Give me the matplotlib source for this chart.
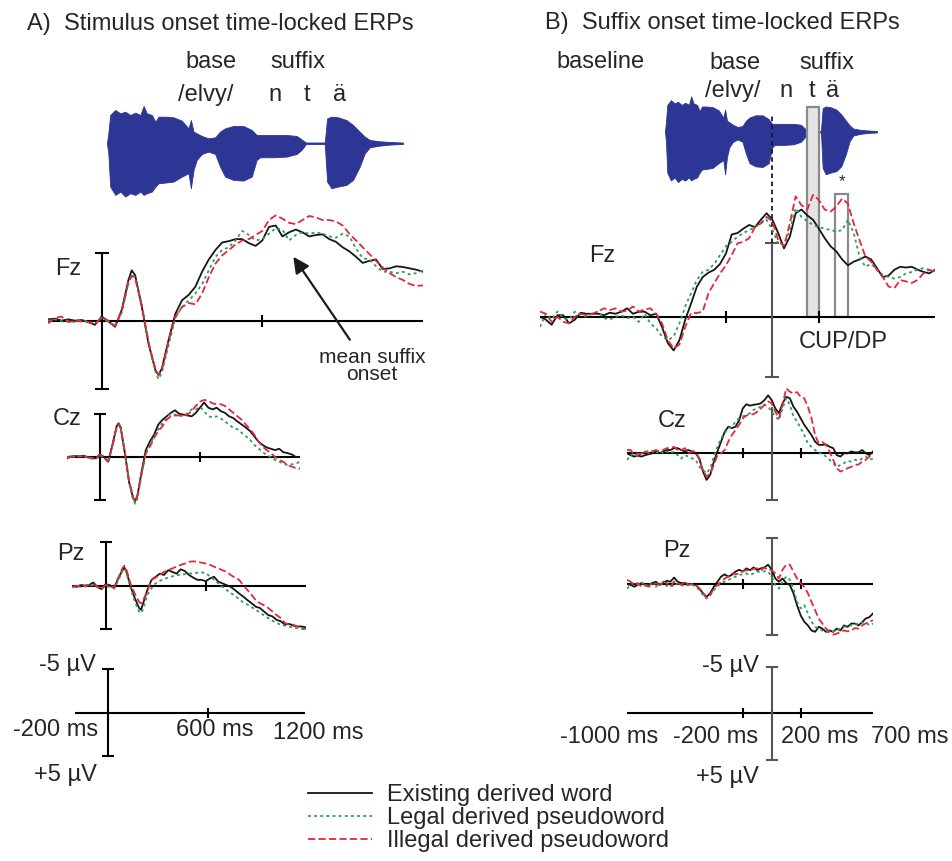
import numpy as np
import matplotlib
matplotlib.use("Agg")
import matplotlib.pyplot as plt
from matplotlib.patches import Rectangle

plt.rcParams['font.family'] = ['Liberation Sans', 'DejaVu Sans']

# ---------------- data (µV, negative plotted up) ----------------
# panel A: stimulus onset locked, ms
tA = np.r_[-200:101:25, 112, 125:201:25, 212, 225:1201:25]

fzA_exist = [-0.1, -0.15, 0.0, -0.1, 0.0, -0.05, 0.1, 0.3, -0.3, 0.05, 0.45, -0.8, -3.0,
             -3.7,
             -3.35, -1.0, 1.7, 3.6,
             4.0,
             3.5, 1.4, -0.5, -1.5, -1.9, -2.5, -3.6, -4.5, -5.2, -5.75,
             -5.85, -6.0, -6.0, -5.7, -5.5, -5.9, -6.9, -7.0, -6.2, -6.5,
             -6.7, -6.5, -6.2, -6.3, -6.35, -6.0, -5.8, -5.4, -5.1, -4.7,
             -4.25, -4.4, -4.5, -3.8, -3.85, -4.0, -3.95, -3.85, -3.75, -3.6]
fzA_legal = [0.0, -0.1, 0.05, 0.0, 0.1, 0.0, 0.05, 0.25, -0.2, 0.1, 0.4, -0.6, -2.8,
             -3.4,
             -3.2, -1.2, 1.6, 3.7,
             4.3,
             3.8, 1.8, -0.2, -1.0, -1.5, -2.0, -2.7, -3.7, -4.7, -5.2,
             -5.4, -5.9, -6.6, -6.3, -5.9, -6.0, -6.4, -6.8, -6.7, -5.9,
             -6.3, -6.5, -6.4, -6.5, -6.4, -6.2, -6.1, -6.4, -6.2, -5.3,
             -4.6, -4.5, -4.0, -3.6, -3.6, -3.5, -3.6, -3.4, -3.5, -3.7]
fzA_illegal = [0.2, -0.2, -0.3, 0.1, 0.0, 0.05, 0.1, 0.25, -0.25, 0.0, 0.4, -0.7, -2.8,
               -3.3,
               -3.1, -1.1, 1.6, 3.5,
               4.0,
               3.6, 1.5, -0.3, -1.0, -1.3, -1.2, -2.0, -3.2, -4.2, -4.8,
               -5.2, -5.6, -5.9, -6.0, -6.3, -6.6, -7.4, -7.75, -7.5, -7.2,
               -7.1, -7.4, -7.7, -7.6, -7.4, -7.4, -7.3, -7.0, -6.4, -5.9,
               -5.4, -4.9, -4.4, -3.9, -3.5, -3.2, -3.0, -2.7, -2.55, -2.6]

czA_exist = [0.0, -0.05, -0.1, -0.1, -0.15, 0.0, 0.15, 0.15, -0.3, 0.0, 0.55, -1.4, -3.55,
             -3.9,
             -3.4, -0.4, 2.9, 4.8,
             5.1,
             4.45, 1.7, -0.8, -1.8, -2.6, -3.75, -4.3, -4.7, -5.1, -5.4,
             -5.0, -4.9, -4.8, -4.7, -5.1, -5.7, -6.3, -5.7, -5.5, -5.7,
             -5.3, -5.1, -4.7, -4.5, -4.1, -3.75, -3.4, -3.0, -2.4, -1.8,
             -1.4, -1.1, -0.95, -0.8, -0.95, -0.55, -0.45, -0.3, 0.0, 0.0]
czA_legal = [0.1, -0.1, 0.0, -0.1, 0.0, -0.05, 0.2, 0.25, -0.2, 0.1, 0.6, -1.2, -3.4,
             -3.8,
             -3.3, -0.5, 2.9, 5.0,
             5.4,
             4.8, 2.0, -0.4, -1.4, -2.4, -3.2, -3.9, -4.6, -5.0, -4.9,
             -4.8, -4.7, -5.1, -5.5, -5.5, -5.8, -5.3, -4.7, -4.6, -4.7,
             -4.45, -4.1, -3.75, -3.35, -3.2, -2.8, -2.4, -2.0, -1.4, -1.0,
             -0.6, -0.2, 0.0, 0.35, 0.55, 0.75, 0.95, 0.85, 0.75, 0.55]
czA_illegal = [0.2, 0.0, -0.15, -0.05, -0.1, 0.05, 0.1, 0.2, -0.25, 0.05, 0.5, -1.3, -3.4,
               -3.8,
               -3.3, -0.5, 2.8, 4.7,
               5.1,
               4.5, 1.9, -0.4, -1.2, -2.2, -3.0, -3.55, -4.3, -4.7, -4.8,
               -4.8, -4.8, -4.9, -5.3, -5.9, -6.4, -6.6, -6.5, -6.2, -6.1,
               -6.1, -5.9, -5.5, -5.1, -4.7, -4.3, -3.75, -3.2, -2.6, -1.8,
               -1.2, -0.8, -0.45, 0.0, 0.35, 0.55, 0.95, 1.1, 1.3, 1.35]

pzA_exist = [0.0, 0.1, -0.1, -0.05, -0.1, -0.4, 0.1, 0.35, -0.2, -0.1, 0.25, -0.85, -1.8,
             -2.1,
             -1.6, 0.1, 1.4, 2.5,
             2.7,
             1.95, 0.45, -0.7, -1.05, -1.4, -1.25, -1.8, -1.6, -1.4, -1.9,
             -1.7, -1.25, -0.95, -0.7, -0.7, -0.55, -0.85, -1.05, -0.5, -0.3,
             -0.1, 0.1, 0.45, 0.85, 1.2, 1.6, 1.95, 2.35, 2.5, 2.9,
             3.3, 3.45, 3.85, 4.0, 4.4, 4.3, 4.5, 4.6, 4.6, 4.7]
pzA_legal = [0.15, 0.0, 0.1, 0.05, 0.0, -0.1, 0.15, 0.3, 0.0, 0.1, 0.3, -0.6, -1.7,
             -2.0,
             -1.5, 0.3, 1.8, 2.9,
             3.1,
             2.6, 1.0, 0.25, -0.3, -0.6, -0.8, -0.95, -1.1, -1.2, -1.3,
             -1.35, -1.4, -1.45, -1.5, -1.55, -1.45, -1.1, -0.7, -0.3, 0.1,
             0.45, 0.8, 1.1, 1.5, 1.85, 2.1, 2.4, 2.7, 3.0, 3.35,
             3.65, 3.95, 4.2, 4.4, 4.5, 4.6, 4.75, 4.8, 4.85, 4.95]
pzA_illegal = [0.1, 0.0, -0.05, 0.0, -0.1, -0.2, 0.05, 0.3, -0.1, -0.05, 0.2, -0.9, -2.0,
               -2.3,
               -1.8, -0.2, 0.9, 1.8,
               1.95,
               1.6, 0.6, -0.7, -0.95, -1.25, -1.6, -1.8, -2.0, -2.2, -2.4,
               -2.55, -2.75, -2.8, -2.75, -2.65, -2.55, -2.4, -2.2, -2.0, -1.8,
               -1.6, -1.25, -0.95, -0.7, -0.1, 0.45, 1.0, 1.6, 1.95, 2.2,
               2.5, 2.9, 3.3, 3.65, 4.2, 4.4, 4.4, 4.6, 4.8, 4.9]

# panel B: suffix onset locked, ms
tB = np.arange(-1000, 701, 25)

fzB_exist = [0.0, 0.2, 0.55, -0.1, -0.1, 0.45, 0.2, -0.27, -0.2, -0.2,
             -0.2, -0.1, -0.27, -0.2, -0.34, -0.57, -0.2, -0.34, -0.34, -0.1,
             -0.2, 0.7, 1.8, 2.3, 1.6, 0.2, -0.9, -2.05, -2.7, -3.0,
             -3.2, -3.6, -4.3, -5.6, -5.7, -6.0, -6.25, -6.1, -6.6, -7.05,
             -6.6, -5.7, -4.65, -5.45, -7.05, -7.3, -6.9, -6.6, -6.0, -5.35,
             -4.8, -4.45, -3.9, -3.5, -3.75, -3.9, -4.1, -3.9, -3.3, -2.7,
             -2.8, -3.2, -3.4, -3.35, -3.4, -3.2, -3.05, -2.95, -3.2]
fzB_legal = [0.7, -0.2, 0.2, -0.35, 0.1, 0.2, -0.35, -0.1, 0.0, -0.2,
             -0.35, 0.1, 0.2, 0.0, -0.1, 0.1, 0.0, 0.35, -0.2, 0.45,
             0.8, 1.35, 1.6, 1.35, 0.45, -0.7, -1.6, -2.5, -3.05, -3.2,
             -3.6, -4.2, -4.8, -5.1, -5.45, -5.7, -5.9, -6.1, -6.35, -6.6,
             -5.9, -5.0, -4.9, -5.9, -7.4, -6.8, -6.5, -6.25, -6.1, -6.0,
             -5.9, -5.8, -5.9, -6.6, -5.7, -4.1, -3.4, -3.6, -3.2, -2.85,
             -2.7, -2.6, -2.7, -2.95, -3.05, -3.2, -3.3, -3.2, -3.1]
fzB_illegal = [-0.35, -0.2, 0.35, 0.0, 0.35, 0.45, 0.0, -0.2, -0.1, -0.2,
               -0.35, -0.57, -0.45, -0.57, -0.35, -0.4, -0.7, -0.35, -0.5, -0.57,
               -0.2, 0.45, 1.6, 2.15, 1.9, 0.7, -0.25, -0.25, -0.35, -1.6,
               -2.3, -2.95, -3.5, -4.2, -5.0, -5.1, -5.35, -6.1, -6.35, -6.8,
               -6.5, -5.2, -4.8, -6.35, -8.2, -7.6, -7.3, -8.3, -7.95, -7.3,
               -7.15, -7.5, -8.05, -7.7, -6.35, -5.2, -4.1, -3.75, -3.2, -2.7,
               -2.05, -1.95, -2.5, -2.4, -2.3, -2.5, -2.95, -3.2, -3.05]

czB_exist = [0.0, 0.2, 0.35, 0.25, 0.35, 0.2, 0.1, 0.0, -0.2, 0.0,
             -0.2, -0.35, -0.35, -0.55, -0.55, -0.35, -0.2, -0.35, -0.2, 0.0,
             0.55, 1.95, 2.85, 2.3, 0.9, -0.2, -1.25, -2.3, -2.85, -2.7,
             -2.85, -3.55, -4.8, -5.25, -5.1, -5.2, -5.25, -5.35, -5.7, -6.2,
             -5.7, -4.8, -4.3, -5.35, -6.05, -5.9, -5.0, -4.45, -3.75, -3.05,
             -2.5, -1.95, -1.25, -0.9, -0.9, -0.95, -0.7, -0.55, 0.2, 0.35,
             0.0, 0.0, -0.2, -0.1, -0.1, -0.35, 0.0, 0.2, -0.2]
czB_legal = [0.7, 0.2, 0.0, 0.35, 0.0, 0.0, -0.35, -0.2, 0.0, -0.35,
             0.0, -0.2, 0.0, -0.2, 0.2, 0.55, 0.2, 0.35, 0.55, 0.7,
             1.45, 1.8, 2.15, 1.6, 0.35, -0.7, -1.6, -2.15, -2.7, -2.85,
             -3.4, -3.75, -3.95, -4.1, -4.3, -4.65, -4.8, -5.0, -5.2, -5.0,
             -4.45, -3.95, -3.55, -4.8, -5.9, -5.2, -3.95, -3.4, -2.7, -1.95,
             -1.05, -0.7, -0.35, 0.0, 0.0, 0.35, 0.7, 1.05, 1.45, 1.25,
             1.05, 0.8, 0.9, 0.7, 0.8, 0.55, 0.35, 0.7, 0.55]
czB_illegal = [-0.35, -0.35, 0.2, 0.0, 0.2, -0.2, 0.0, -0.2, -0.35, -0.2,
               -0.35, -0.55, -0.55, -0.7, -0.35, -0.35, -0.55, 0.0, -0.2, -0.2,
               0.7, 1.8, 2.5, 2.15, 1.25, 0.2, 0.0, -0.35, -1.25, -1.95,
               -2.5, -3.05, -3.75, -4.05, -4.1, -4.2, -4.45, -4.8, -5.2, -5.55,
               -5.35, -4.45, -3.75, -5.2, -6.95, -6.6, -6.4, -6.55, -6.05, -5.9,
               -5.0, -3.75, -1.95, -1.05, -1.2, -0.9, -0.2, 0.7, 1.6, 1.95,
               1.8, 1.6, 1.45, 1.25, 1.2, 0.9, 0.7, 0.35, 0.0]

pzB_exist = [0.0, 0.1, 0.3, 0.1, -0.1, 0.1, 0.1, -0.1, -0.25, 0.1,
             -0.1, -0.35, -0.25, -0.7, -0.25, -0.1, -0.1, 0.05, 0.0, 0.1,
             0.5, 1.0, 1.4, 1.0, 0.3, -0.25, -0.8, -1.05, -0.8, -1.0,
             -1.35, -1.55, -1.35, -1.7, -1.5, -1.8, -1.5, -1.7, -1.8, -2.1,
             -1.55, -0.6, -0.25, -0.6, -0.1, 0.1, 1.0, 2.3, 3.4, 4.1,
             4.5, 5.05, 5.2, 4.65, 4.85, 5.2, 5.05, 5.2, 4.85, 5.05,
             4.5, 4.65, 4.3, 4.3, 4.5, 4.15, 3.75, 3.6, 3.2]
pzB_legal = [0.5, 0.1, -0.1, 0.1, -0.25, 0.3, -0.1, 0.1, 0.3, -0.1,
             0.1, 0.2, 0.05, 0.3, -0.1, 0.1, 0.3, 0.05, 0.1, 0.3,
             0.65, 1.2, 1.55, 1.2, 0.65, 0.3, -0.1, -0.25, -0.45, -0.6,
             -0.8, -1.0, -1.05, -1.15, -1.0, -1.15, -1.35, -1.3, -1.4, -1.35,
             -0.8, 0.1, 0.5, -0.25, -0.8, -0.45, 0.5, 1.95, 2.65, 2.3,
             3.2, 4.1, 4.65, 4.85, 5.05, 5.15, 5.3, 5.15, 5.05, 4.85,
             4.65, 4.55, 4.5, 4.4, 4.3, 4.2, 4.15, 4.5, 4.3]
pzB_illegal = [-0.45, -0.25, 0.1, -0.1, 0.3, 0.1, 0.3, 0.1, -0.1, 0.1,
               -0.25, -0.1, 0.3, -0.25, -0.1, 0.1, -0.25, 0.1, 0.0, 0.1,
               0.5, 1.0, 1.55, 1.2, 0.5, 0.1, -0.25, -0.6, -0.8, -1.15,
               -1.05, -1.15, -1.4, -1.5, -1.5, -1.65, -1.7, -1.5, -1.8, -1.5,
               -1.5, -1.15, -0.6, -1.55, -2.1, -2.1, -1.35, -0.6, -0.1, 0.3,
               1.0, 1.95, 2.85, 3.75, 4.3, 4.85, 5.2, 5.5, 5.4, 5.2,
               5.05, 5.15, 5.05, 4.8, 4.85, 4.5, 4.3, 4.1, 3.95]

# speech waveform envelope of /elvyntä/ (time ms, upper / lower amplitude)
env_t = [0, 5, 12, 31, 50, 68, 87, 106, 125, 137, 149, 168, 181, 193, 218, 249,
         280, 305, 314, 324, 336, 355, 380, 405, 423, 442, 473, 510, 542, 560,
         573, 622, 672, 710, 728, 745, 815, 824, 840, 865, 896, 921, 946, 965,
         984, 1021, 1058, 1108]
env_up = [0.02, 0.3, 0.85, 1.0, 0.9, 0.95, 0.85, 0.92, 0.85, 1.12, 0.9, 0.85,
          0.65, 0.8, 0.8, 0.78, 0.68, 0.45, 0.7, 0.35, 0.3, 0.22, 0.15, 0.18,
          0.35, 0.45, 0.52, 0.52, 0.4, 0.25, 0.25, 0.25, 0.25, 0.22, 0.12, 0.02,
          0.02, 0.75, 0.8, 0.78, 0.7, 0.55, 0.35, 0.2, 0.1, 0.06, 0.04, 0.02]
env_down = [0.02, 0.3, 1.3, 1.55, 1.45, 1.6, 1.5, 1.55, 1.45, 1.55, 1.5, 1.45,
            1.3, 1.2, 1.18, 1.15, 1.0, 0.9, 1.35, 0.8, 0.5, 0.32, 0.25, 0.32,
            0.7, 1.0, 1.1, 1.12, 1.0, 0.5, 0.42, 0.42, 0.4, 0.32, 0.2, 0.02,
            0.02, 1.15, 1.35, 1.3, 1.25, 1.1, 0.7, 0.3, 0.12, 0.07, 0.04, 0.02]

cup_window = (147, 200)    # ms, shaded
dp_window = (270, 326)     # ms, significant
conditions = ['Existing derived word', 'Legal derived pseudoword', 'Illegal derived pseudoword']

# ---------------- layout ----------------
W, H = 953, 861
fig = plt.figure(figsize=(W / 100, H / 100), dpi=100)

BLACK, GREEN, RED = '#151515', '#2b9d5d', '#e3283c'
STYLES = [dict(color=BLACK, ls='-'),
          dict(color=GREEN, ls=(0, (1.6, 1.8))),
          dict(color=RED, ls=(0, (4, 1.8)))]
TXT = '#262626'
AX_LW = 1.5


def ptext(x, y, s, size=17, ha='center', va='baseline', **kw):
    fig.text(x / W, 1 - y / H, s, fontsize=size, ha=ha, va=va, color=TXT, **kw)


def erp_axes(x_zero, px_ms, y_zero, px_uv, xlim, ylim):
    x0 = x_zero + xlim[0] * px_ms
    x1 = x_zero + xlim[1] * px_ms
    ytop = y_zero + ylim[0] * px_uv
    ybot = y_zero + ylim[1] * px_uv
    ax = fig.add_axes([x0 / W, 1 - ybot / H, (x1 - x0) / W, (ybot - ytop) / H])
    ax.set_xlim(*xlim)
    ax.set_ylim(ylim[1], ylim[0])
    ax.axis('off')
    return ax


def cross(ax, xr, yr, ticks, vcol='k', caps=None, cap=9, tick=8, hcol='k'):
    ax.plot(xr, [0, 0], color=hcol, lw=AX_LW, solid_capstyle='butt')
    ax.plot([0, 0], yr, color=vcol, lw=AX_LW, solid_capstyle='butt')
    if caps is None:
        caps = yr
    ax.plot([0] * len(caps), caps, ls='none', marker='_', ms=cap, mew=AX_LW, color=vcol)
    ax.plot(ticks, [0] * len(ticks), ls='none', marker='|', ms=tick, mew=AX_LW, color=hcol)


def curves(ax, t, series, lw=1.3):
    hs = []
    for y, st, lab in zip(series, STYLES, conditions):
        h, = ax.plot(t, y, lw=lw, label=lab, zorder=3, **st)
        hs.append(h)
    return hs

# ---- audio waveforms ----
def audio_axes(x0, x1, yc, px_unit):
    ax = fig.add_axes([x0 / W, 1 - (yc + 2 * px_unit) / H, (x1 - x0) / W, 4 * px_unit / H])
    ax.set_xlim(env_t[0], env_t[-1])
    ax.set_ylim(-2, 2)
    ax.axis('off')
    ax.fill_between(env_t, [-v for v in env_down], env_up, color='#2d3694', lw=0.6)
    ax.plot(env_t, [0] * len(env_t), color='#2d3694', lw=1.0)
    return ax

audio_axes(107, 403, 143.3, 33.3)
audio_axes(665, 877, 131.7, 31.5)

# ---- panel A ----
axFzA = erp_axes(101.7, 0.2677, 320.7, 13.6, (-200, 1200), (-9, 6))
cross(axFzA, (-200, 1200), (-5, 5), [600], cap=10, tick=9)
handles = curves(axFzA, tA, [fzA_exist, fzA_legal, fzA_illegal])
axFzA.annotate('', xy=(716, -4.7), xytext=(927, 1.4),
               arrowprops=dict(arrowstyle='-|>', mutation_scale=24, lw=1.6, color='#1a1a1a',
                               shrinkA=0, shrinkB=0))

axCzA = erp_axes(99.9, 0.1668, 457.0, 8.65, (-200, 1200), (-8, 7))
cross(axCzA, (-200, 1200), (-5, 5), [600], cap=8, tick=7)
curves(axCzA, tA, [czA_exist, czA_legal, czA_illegal])

axPzA = erp_axes(105.7, 0.1667, 586.0, 8.8, (-200, 1200), (-7, 7))
cross(axPzA, (-200, 1200), (-5, 4.9), [600], cap=8, tick=7)
curves(axPzA, tA, [pzA_exist, pzA_legal, pzA_illegal])

axScA = erp_axes(108.3, 0.1667, 712.7, 8.67, (-200, 1200), (-6, 6))
cross(axScA, (-200, 1180), (-5, 5), [600], cap=8, tick=7)

# ---- panel B ----
axFzB = erp_axes(772.4, 0.2324, 316.7, 14.68, (-1000, 700), (-15, 6))
cross(axFzB, (-1000, 700), (-5, 4.1), [-200, 200], vcol='#555555', cap=10, tick=9)
axFzB.add_patch(Rectangle((cup_window[0], 0), cup_window[1] - cup_window[0], -14.3,
                          facecolor='#e4e4e4', edgecolor='#8a8a8a', lw=1.6, zorder=1))
axFzB.add_patch(Rectangle((dp_window[0], 0), dp_window[1] - dp_window[0], -8.35,
                          facecolor='none', edgecolor='#8a8a8a', lw=1.6, zorder=1))
axFzB.plot([0, 0], [-5, -13.9], color='#1a1a1a', lw=1.3, ls=(0, (2.5, 2)), zorder=2)
axFzB.text(np.mean(dp_window), -9.2, '*', ha='center', va='center', fontsize=12, color=TXT)
curves(axFzB, tB, [fzB_exist, fzB_legal, fzB_illegal])

axCzB = erp_axes(771.7, 0.1447, 453.3, 9.34, (-1000, 700), (-8, 6))
cross(axCzB, (-1000, 700), (-5, 5), [-200, 200], vcol='#555555', caps=[5], cap=8, tick=7)
curves(axCzB, tB, [czB_exist, czB_legal, czB_illegal])

axPzB = erp_axes(771.7, 0.1447, 584.0, 9.2, (-1000, 700), (-6, 6.5))
cross(axPzB, (-1000, 700), (-5, 5.5), [-200, 200], vcol='#555555', cap=8, tick=7)
curves(axPzB, tB, [pzB_exist, pzB_legal, pzB_illegal])

axScB = erp_axes(771.7, 0.1447, 713.3, 9.33, (-1000, 700), (-6, 6))
cross(axScB, (-1000, 700), (-5, 5), [-200, 200], vcol='#555555', cap=8, tick=7)

# ---- texts ----
ptext(27, 30, 'A)  Stimulus onset time-locked ERPs', ha='left')
ptext(545, 29, 'B)  Suffix onset time-locked ERPs', ha='left')

ptext(211, 68, 'base')
ptext(298, 68, 'suffix')
ptext(206, 101, '/elvy/')
for x, s in [(275, 'n'), (307, 't'), (340, 'ä')]:
    ptext(x, 101, s)

ptext(601, 68, 'baseline')
ptext(735, 69, 'base')
ptext(827, 69, 'suffix')
ptext(733, 97, '/elvy/')
for x, s in [(786, 'n'), (812, 't'), (833, 'ä')]:
    ptext(x, 97, s)

for x, y, s in [(68, 275, 'Fz'), (67, 425, 'Cz'), (71, 560, 'Pz'),
                (602, 262, 'Fz'), (672, 427, 'Cz'), (677, 557, 'Pz')]:
    ptext(x, y, s)

ptext(843, 348, 'CUP/DP')
ptext(372, 380, 'mean suffix\nonset', size=15, multialignment='center', linespacing=0.85)

ptext(96, 671, '-5 µV', ha='right')
ptext(56, 736, '-200 ms')
ptext(215, 736, '600 ms')
ptext(318, 739, '1200 ms')
ptext(97, 781, '+5 µV', ha='right')

ptext(759, 672, '-5 µV', ha='right')
ptext(609, 743, '-1000 ms')
ptext(716, 743, '-200 ms')
ptext(820, 743, '200 ms')
ptext(910, 743, '700 ms')
ptext(759, 783, '+5 µV', ha='right')

fig.legend(handles=handles, loc='upper left', bbox_to_anchor=(308 / W, 1 - 784 / H),
           frameon=False, fontsize=17, handlelength=2.7, handletextpad=0.65,
           labelspacing=0.05, borderpad=0, borderaxespad=0, labelcolor=TXT)

fig.savefig('out.png', dpi=100)
